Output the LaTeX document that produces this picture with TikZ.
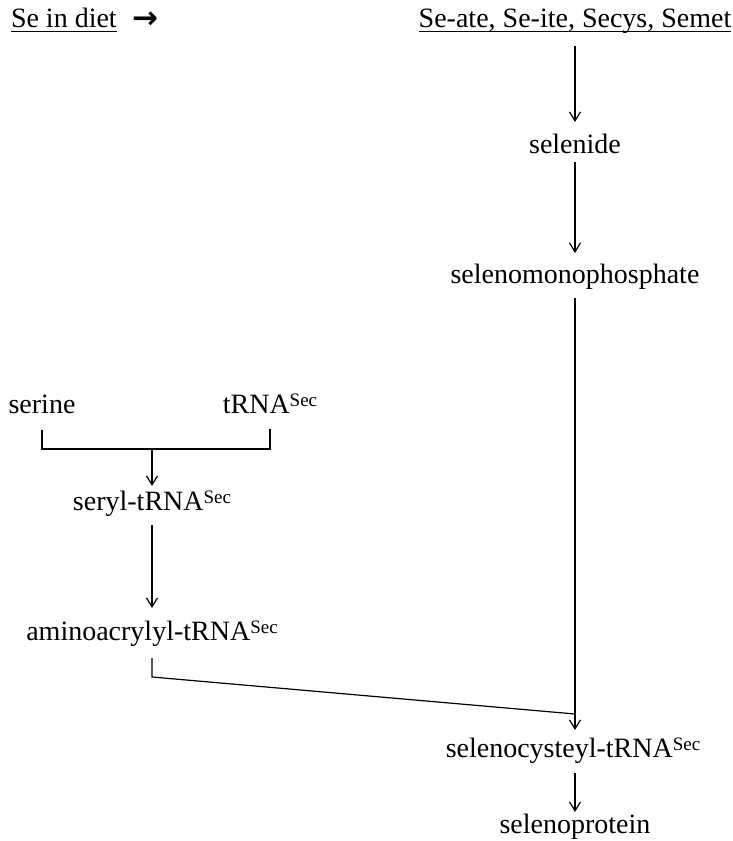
\documentclass[tikz,border=0pt]{standalone}
\usepackage{fontspec}
\setmainfont{Liberation Serif}
\newfontfamily\symfont{DejaVu Sans}
\usetikzlibrary{arrows.meta,calc}
\newcommand\sct{\raisebox{6.5pt}{\fontsize{19}{19}\selectfont Sec}}
\begin{document}
\begin{tikzpicture}[x=1pt,y=-1pt,
  lbl/.style={inner sep=0pt,outer sep=0pt,anchor=base,text height=19pt,text depth=6pt,
    font=\fontsize{28}{34}\selectfont},
  arr/.style={line width=1.2pt,-{Straight Barb[length=9pt,width=11pt,line width=1.2pt]}},
  ln/.style={line width=1.2pt},
  ul/.style={line width=1pt}]
\useasboundingbox (0,0) rectangle (732,841);
% nodes
\node[lbl,anchor=base west] (diet) at (11,27) {Se in diet};
\node[inner sep=0pt,font=\symfont\bfseries\fontsize{31}{31}\selectfont] (arrowsym) at (145.5,20) {→};
\node[lbl] (seate) at (575,27) {Se-ate, Se-ite, Secys, Semet};
\node[lbl] (selenide) at (575,153) {selenide};
\node[lbl] (selmono) at (575,283) {selenomonophosphate};
\node[lbl] (serine) at (42,413) {serine};
\node[lbl] (trna) at (270,413) {tRNA\sct};
\node[lbl] (seryl) at (152,510) {seryl-tRNA\sct};
\node[lbl] (amino) at (152,640) {aminoacrylyl-tRNA\sct};
\node[lbl] (selcys) at (573,757) {selenocysteyl-tRNA\sct};
\node[lbl] (selprot) at (575,833) {selenoprotein};
\coordinate (br) at (152,449);
\coordinate (corner) at (152,677);
\coordinate (J) at (575,714);
% underlines
\draw[ul] ([yshift=-4pt]diet.base west) -- ([yshift=-4pt]diet.base east);
\draw[ul] ([yshift=-4pt]seate.base west) -- ([yshift=-4pt]seate.base east);
% connectors
\draw[arr,shorten <=13pt,shorten >=12pt] (seate.south) -- (selenide.north);
\draw[arr,shorten <=3pt,shorten >=11pt] (selenide.south) -- (selmono.north);
\draw[ln,shorten <=9pt] (selmono.south) -- (J);
\draw[arr,shorten >=8pt] (J) -- (J |- selcys.north);
\draw[ln,shorten <=11pt,shorten >=10pt] (serine.south) -- (serine.south |- br) -- (trna.south |- br) -- (trna.south);
\draw[arr,shorten >=5pt] (br) -- (seryl.north);
\draw[arr,shorten <=9pt,shorten >=13pt] (seryl.south) -- (amino.north);
\draw[ln,shorten <=12pt] (amino.south) -- (corner) -- (J);
\draw[arr,shorten <=10pt,shorten >=2pt] (selcys.south -| J) -- (selprot.north);
\end{tikzpicture}
\end{document}
